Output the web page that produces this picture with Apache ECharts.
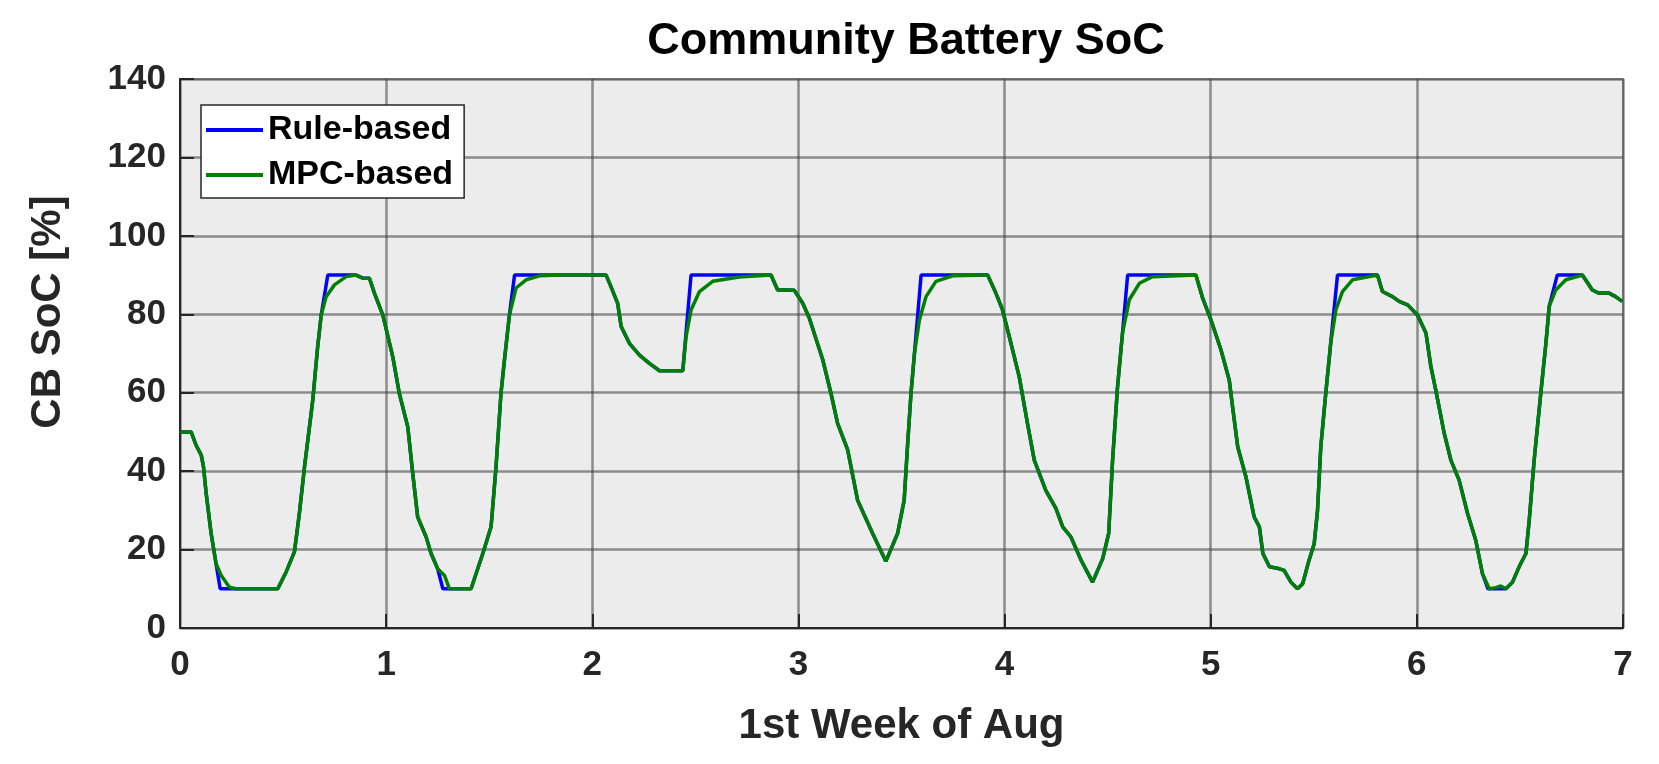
<!DOCTYPE html>
<html>
<head>
<meta charset="utf-8">
<script src="https://cdn.jsdelivr.net/npm/echarts@6/dist/echarts.min.js"></script>
<style>
html,body{margin:0;padding:0;background:#fff;}
#chart{width:1659px;height:764px;}
</style>
</head>
<body>
<div id="chart"></div>
<script>
// ---- data (days of 1st week of Aug, SoC %) ----
const mpcT = [0,0.054,0.078,0.103,0.114,0.127,0.151,0.175,0.200,0.240,0.272,0.474,0.515,0.555,0.579,0.604,0.644,0.668,0.685,0.709,0.749,0.806,0.854,0.887,0.919,0.943,0.984,
1.032,1.064,1.105,1.129,1.153,1.194,1.218,1.250,1.283,1.307,1.412,1.469,1.509,1.533,1.557,1.574,1.598,1.630,1.679,1.744,1.841,
2.067,2.090,2.123,2.140,2.180,2.229,2.277,2.326,2.439,2.455,2.479,2.520,2.584,2.713,2.867,2.899,2.940,2.980,
3.021,3.053,3.118,3.158,3.190,3.239,3.287,3.360,3.424,3.481,3.513,3.530,3.546,3.563,3.587,3.619,3.667,3.748,3.918,3.958,3.990,
4.031,4.071,4.111,4.144,4.200,4.249,4.282,4.322,4.371,4.427,4.476,4.505,4.524,4.548,4.572,4.605,4.654,4.718,4.928,4.961,
5.001,5.050,5.090,5.106,5.131,5.171,5.211,5.236,5.253,5.285,5.334,5.356,5.389,5.421,5.446,5.477,5.502,5.518,5.534,5.558,5.582,5.607,5.639,5.688,5.809,5.833,5.882,5.914,5.955,
6.003,6.044,6.068,6.092,6.133,6.165,6.205,6.246,6.286,6.318,6.351,6.383,6.407,6.432,6.464,6.496,6.529,6.545,6.569,6.601,6.626,6.642,6.674,6.723,6.803,6.851,6.883,6.932,6.964,6.996];
const mpcSoC = [50,50,46.6,44.1,41.1,34.3,24.1,16.4,13.4,10.4,10,10,14.3,19.4,29.2,41.1,58.1,71.8,79.8,84.5,87.5,89.6,90,89.2,89.2,85.4,79.8,
69.2,59.8,51.3,39.4,28.3,23.2,19.0,15.1,13.4,10,10,19.0,25.8,41.1,59.8,68.4,79.8,86.7,88.8,89.8,90,
90,87.1,82.8,76.9,72.6,69.6,67.5,65.6,65.6,74.3,81.1,85.8,88.4,89.5,90,86.2,86.2,86.1,
82.8,79.0,68.4,59.8,52.2,45.4,32.6,24.1,17.0,24.1,32.6,47.1,59.8,70.1,78.6,84.5,88.4,89.8,90,85.4,81.1,
72.6,64.1,52.2,42.8,35.1,30.5,25.8,23.2,17.3,11.7,17.7,24.1,42.8,61.5,75.2,83.7,87.9,89.6,90,84.1,
78.6,70.9,63.2,56.4,46.2,38.5,28.3,25.8,19.0,15.6,15.1,14.7,11.7,10,11.3,17.3,21.5,29.9,46.2,59.8,72.6,81.1,85.8,88.8,90,85.8,84.5,83.3,82.4,
79.8,75.2,66.7,60.6,49.6,42.8,37.7,29.2,22.3,13.9,10,10.3,10.7,10,11.7,15.6,19.0,27.4,42.8,59.8,72.6,82.0,86.2,88.8,90,86.2,85.4,85.4,84.5,83.3];

const ruleT = [0,0.054,0.078,0.103,0.114,0.127,0.151,0.175,0.195,0.474,0.515,0.555,0.579,0.604,0.644,0.668,0.685,0.717,0.854,0.887,0.919,0.943,0.984,
1.032,1.064,1.105,1.129,1.153,1.194,1.218,1.250,1.275,1.412,1.469,1.509,1.533,1.557,1.574,1.598,1.623,
2.067,2.090,2.123,2.140,2.180,2.229,2.277,2.326,2.439,2.479,2.867,2.899,2.940,2.980,
3.021,3.053,3.118,3.158,3.190,3.239,3.287,3.360,3.424,3.481,3.513,3.530,3.546,3.563,3.595,3.918,3.958,3.990,
4.031,4.071,4.111,4.144,4.200,4.249,4.282,4.322,4.371,4.427,4.476,4.505,4.524,4.548,4.572,4.597,4.928,4.961,
5.001,5.050,5.090,5.106,5.131,5.171,5.211,5.236,5.253,5.285,5.334,5.356,5.389,5.421,5.446,5.477,5.502,5.518,5.534,5.558,5.582,5.615,5.809,5.833,5.882,5.914,5.955,
6.003,6.044,6.068,6.092,6.133,6.165,6.205,6.246,6.286,6.318,6.345,6.432,6.464,6.496,6.529,6.545,6.569,6.601,6.626,6.642,6.681,6.803,6.851,6.883,6.932,6.964,6.996];
const ruleSoC = [50,50,46.6,44.1,41.1,34.3,24.1,16.4,10,10,14.3,19.4,29.2,41.1,58.1,71.8,79.8,90,90,89.2,89.2,85.4,79.8,
69.2,59.8,51.3,39.4,28.3,23.2,19.0,15.1,10,10,19.0,25.8,41.1,59.8,68.4,79.8,90,
90,87.1,82.8,76.9,72.6,69.6,67.5,65.6,65.6,90,90,86.2,86.2,86.1,
82.8,79.0,68.4,59.8,52.2,45.4,32.6,24.1,17.0,24.1,32.6,47.1,59.8,70.1,90,90,85.4,81.1,
72.6,64.1,52.2,42.8,35.1,30.5,25.8,23.2,17.3,11.7,17.7,24.1,42.8,61.5,75.2,90,90,84.1,
78.6,70.9,63.2,56.4,46.2,38.5,28.3,25.8,19.0,15.6,15.1,14.7,11.7,10,11.3,17.3,21.5,29.9,46.2,59.8,72.6,90,90,85.8,84.5,83.3,82.4,
79.8,75.2,66.7,60.6,49.6,42.8,37.7,29.2,22.3,13.9,10,10,11.7,15.6,19.0,27.4,42.8,59.8,72.6,82.0,90,90,86.2,85.4,85.4,84.5,83.3];

const seriesNames = ['Rule-based','MPC-based'];
const xTicks = [0,1,2,3,4,5,6,7];
const yTicks = [0,20,40,60,80,100,120,140];

const FONT = "'Liberation Sans', Arial, Helvetica, sans-serif";
const zip = (t, v) => t.map((x, i) => [x, v[i]]);

const chart = echarts.init(document.getElementById('chart'), null, {renderer:'canvas'});
chart.setOption({
  animation: false,
  backgroundColor: '#ffffff',
  title: {
    text: 'Community Battery SoC',
    left: 901, top: 14, textAlign: 'center',
    textStyle: {fontFamily: FONT, fontWeight: 'bold', fontSize: 45, color: '#000'}
  },
  legend: {
    data: seriesNames,
    orient: 'vertical',
    left: 201, top: 105,
    backgroundColor: '#ffffff',
    borderColor: '#262626', borderWidth: 1.5, borderRadius: 0,
    padding: [8, 11, 6, 5],
    itemGap: 11,
    itemWidth: 57, itemHeight: 4,
    icon: 'rect',
    textStyle: {fontFamily: FONT, fontWeight: 'bold', fontSize: 34, color: '#000'}
  },
  graphic: [{
    type: 'text', x: 48, y: 312, rotation: Math.PI / 2,
    style: {text: 'CB SoC [%]', fill: '#262626', font: "bold 42px 'Liberation Sans', Arial, sans-serif",
            align: 'center', verticalAlign: 'middle'}
  }],
  grid: {
    left: 180, right: 36, top: 79, bottom: 136,
    show: true, backgroundColor: '#ececec', borderColor: '#9a9a9a', borderWidth: 2
  },
  xAxis: {
    type: 'value', min: xTicks[0], max: xTicks[xTicks.length-1], interval: 1,
    name: '1st Week of Aug', nameLocation: 'middle', nameGap: 77,
    nameTextStyle: {fontFamily: FONT, fontWeight: 'bold', fontSize: 42, color: '#262626'},
    axisLine: {show: true, onZero: false, lineStyle: {color: '#262626', width: 2}},
    axisTick: {show: true, inside: true, length: 14, lineStyle: {color: '#262626', width: 2}},
    axisLabel: {fontFamily: FONT, fontWeight: 'bold', fontSize: 35, color: '#262626', margin: 20},
    splitLine: {show: true, lineStyle: {color: 'rgba(60,60,60,0.55)', width: 2.5}}
  },
  yAxis: {
    type: 'value', min: yTicks[0], max: yTicks[yTicks.length-1], interval: 20,
    axisLine: {show: true, onZero: false, lineStyle: {color: '#262626', width: 2}},
    axisTick: {show: true, inside: true, length: 14, lineStyle: {color: '#262626', width: 2}},
    axisLabel: {fontFamily: FONT, fontWeight: 'bold', fontSize: 35, color: '#262626', margin: 14},
    splitLine: {show: true, lineStyle: {color: 'rgba(60,60,60,0.55)', width: 2.5}}
  },
  series: [
    {name: seriesNames[0], type: 'line', data: zip(ruleT, ruleSoC), showSymbol: false, symbol: 'none',
     color: '#0000ff', lineStyle: {color: '#0000ff', width: 3.5}, z: 3},
    {name: seriesNames[1], type: 'line', data: zip(mpcT, mpcSoC), showSymbol: false, symbol: 'none',
     color: '#008000', lineStyle: {color: '#008000', width: 3.5}, z: 4}
  ]
});
</script>
</body>
</html>
